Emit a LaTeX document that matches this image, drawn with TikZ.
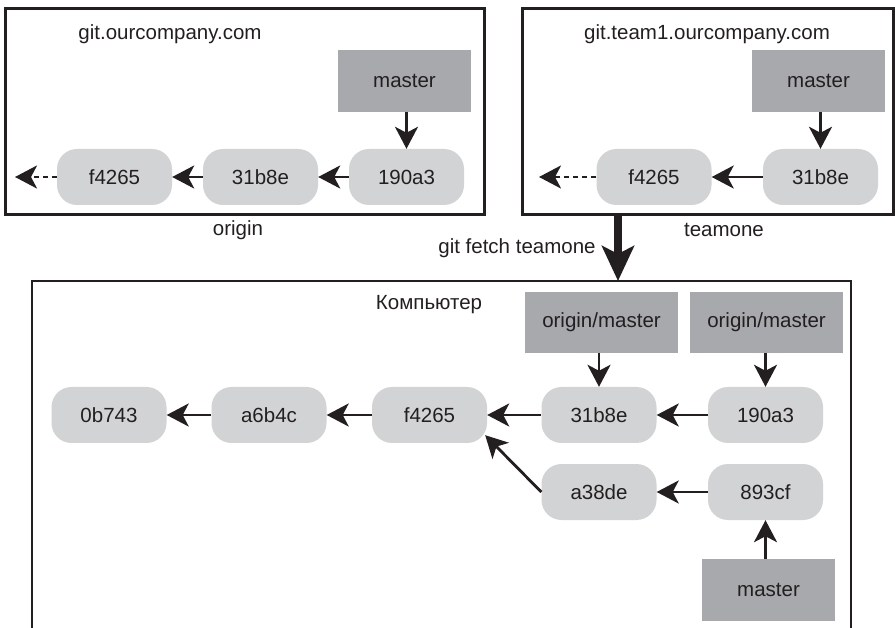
\documentclass[tikz,border=0pt]{standalone}
\usepackage{fontspec}
\setmainfont{Liberation Sans}
\usetikzlibrary{arrows.meta}
\definecolor{ink}{HTML}{231F20}
\definecolor{commitfill}{HTML}{D1D3D4}
\definecolor{branchfill}{HTML}{A7A9AC}
\begin{document}
\begin{tikzpicture}[x=1pt,y=-1pt,
 every node/.style={text=ink, font=\fontsize{20.5}{24}\selectfont},
 commit/.style={fill=commitfill, rounded corners=20pt, minimum width=115pt, minimum height=56pt, inner sep=0pt},
 branch/.style={fill=branchfill, minimum width=133pt, minimum height=62pt, inner sep=0pt},
 rbranch/.style={branch, minimum width=153pt, minimum height=61pt},
 frame/.style={draw=ink, line width=2.8pt},
 ptr/.style={draw=ink, line width=2.8pt, -{Stealth[length=22pt,width=23pt,inset=6pt]}},
 dashptr/.style={ptr, dash pattern=on 5pt off 4pt},
 fetch/.style={draw=ink, line width=8pt, -{Stealth[length=35pt,width=32pt,inset=8pt]}},
 caption/.style={inner sep=0pt}
]
\useasboundingbox (0,0) rectangle (895,628);

% ---- origin server
\node[frame, minimum width=479pt, minimum height=206pt, anchor=north west, inner sep=0pt] (obox) at (4,7) {};
\node[caption] (otitle) at (170,34) {git.ourcompany.com};
\node[branch] (omaster) at (404.5,81) {master};
\node[commit] (o190) at (406.5,177) {190a3};
\node[commit] (o31) at (260.5,177) {31b8e};
\node[commit] (of4) at (114.5,177) {f4265};
\coordinate (oend) at (15,177);
\node[caption] (oname) at (238,230) {origin};
\draw[ptr] (omaster.south -| o190.north) -- (o190.north);
\draw[ptr] (o190) -- (o31);
\draw[ptr] (o31) -- (of4);
\draw[dashptr] (of4) -- (oend);

% ---- teamone server
\node[frame, minimum width=371pt, minimum height=206pt, anchor=north west, inner sep=0pt] (tbox) at (521,7) {};
\node[caption] (ttitle) at (707,34) {git.team1.ourcompany.com};
\node[branch] (tmaster) at (818.5,81) {master};
\node[commit] (t31) at (820.5,177) {31b8e};
\node[commit] (tf4) at (654,177) {f4265};
\coordinate (tend) at (539,177);
\node[caption] (tname) at (724,230) {teamone};
\draw[ptr] (tmaster.south -| t31.north) -- (t31.north);
\draw[ptr] (t31) -- (tf4);
\draw[dashptr] (tf4) -- (tend);

% ---- computer
\draw[frame] (32,628) |- (851,281) -- (851,628);
\coordinate (pctop) at (618,281);
\node[caption] (pctitle) at (429,305) {Компьютер};
\node[rbranch] (om1) at (601.5,322.5) {origin/master};
\node[rbranch] (om2) at (766.5,322.5) {origin/master};
\node[commit] (l190) at (765.5,415) {190a3};
\node[commit] (l31) at (599,415) {31b8e};
\node[commit] (lf4) at (429.5,415) {f4265};
\node[commit] (la6) at (269,415) {a6b4c};
\node[commit] (l0b) at (109,415) {0b743};
\node[commit] (l893) at (765.5,492) {893cf};
\node[commit] (la38) at (599,492) {a38de};
\node[branch] (lmaster) at (768.5,590) {master};
\draw[ptr] (om1.south -| l31.north) -- (l31.north);
\draw[ptr] (om2.south -| l190.north) -- (l190.north);
\draw[ptr] (l190) -- (l31);
\draw[ptr] (l31) -- (lf4);
\draw[ptr] (lf4) -- (la6);
\draw[ptr] (la6) -- (l0b);
\draw[ptr] (l893) -- (la38);
\draw[ptr] (la38.west) -- ([xshift=-2pt,yshift=8pt]lf4.south east);
\draw[ptr] (lmaster.north -| l893.south) -- (l893.south);

% ---- fetch
\draw[fetch] (tbox.south -| pctop) -- (pctop);
\node[caption] (fetchlbl) at (517,248) {git fetch teamone};
\end{tikzpicture}
\end{document}
